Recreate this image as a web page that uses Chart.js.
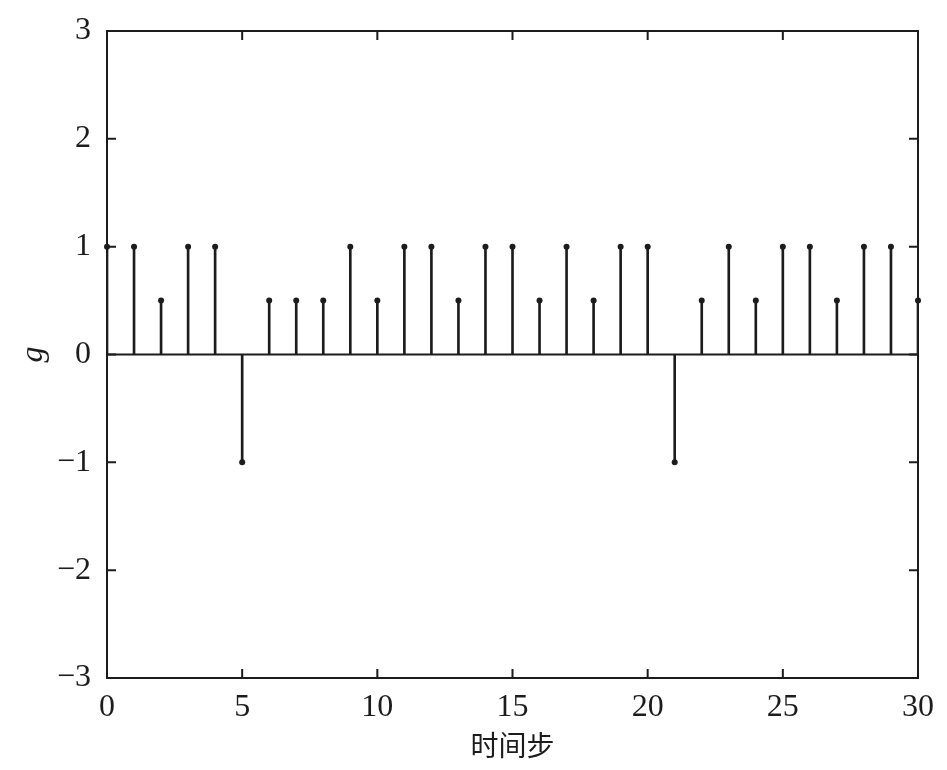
<!DOCTYPE html>
<html>
<head>
<meta charset="utf-8">
<script src="https://cdn.jsdelivr.net/npm/chart.js@4.4.1/dist/chart.umd.min.js"></script>
<style>
  html, body { margin: 0; padding: 0; background: #fff; }
  #wrap { width: 947px; height: 770px; }
</style>
</head>
<body>
<div id="wrap"><canvas id="stem"></canvas></div>
<script>
// time steps and g values
const steps = [0, 1, 2, 3, 4, 5, 6, 7, 8, 9, 10, 11, 12, 13, 14, 15, 16, 17, 18, 19, 20, 21, 22, 23, 24, 25, 26, 27, 28, 29, 30];
const gValues = [1, 1, 0.5, 1, 1, -1, 0.5, 0.5, 0.5, 1, 0.5, 1, 1, 0.5, 1, 1, 0.5, 1, 0.5, 1, 1, -1, 0.5, 1, 0.5, 1, 1, 0.5, 1, 1, 0.5];
const xTicks = [0, 5, 10, 15, 20, 25, 30];
const yTicks = [-3, -2, -1, 0, 1, 2, 3];

const ink = '#1c1c1c';
const points = steps.map((s, i) => ({ x: s, y: gValues[i] }));

// matplotlib-style box with inward ticks on all four sides
const frameTicks = {
    id: 'frameTicks',
    afterDatasetsDraw(chart) {
        const { ctx, chartArea: a, scales } = chart;
        const len = 9;
        ctx.save();
        ctx.strokeStyle = ink;
        ctx.lineWidth = 2;
        ctx.strokeRect(a.left, a.top, a.right - a.left, a.bottom - a.top);
        ctx.beginPath();
        xTicks.forEach(v => {
            const px = scales.x.getPixelForValue(v);
            ctx.moveTo(px, a.bottom); ctx.lineTo(px, a.bottom - len);
            ctx.moveTo(px, a.top); ctx.lineTo(px, a.top + len);
        });
        yTicks.forEach(v => {
            const py = scales.y.getPixelForValue(v);
            ctx.moveTo(a.left, py); ctx.lineTo(a.left + len, py);
            ctx.moveTo(a.right, py); ctx.lineTo(a.right - len, py);
        });
        ctx.stroke();
        ctx.restore();
    }
};

const tickFont = { family: '"Liberation Serif", serif', size: 32 };

new Chart(document.getElementById('stem'), {
    type: 'bar',
    data: {
        datasets: [
            {
                type: 'scatter',
                data: points,
                pointRadius: 3,
                pointBackgroundColor: ink,
                pointBorderWidth: 0,
                clip: false,
                order: 0
            },
            {
                type: 'bar',
                data: points,
                backgroundColor: ink,
                barThickness: 2,
                order: 1
            },
            {
                type: 'line',
                data: [{ x: steps[0], y: 0 }, { x: steps[steps.length - 1], y: 0 }],
                borderColor: ink,
                borderWidth: 2,
                pointRadius: 0,
                order: 2
            }
        ]
    },
    options: {
        responsive: true,
        maintainAspectRatio: false,
        animation: false,
        events: [],
        layout: { padding: { left: 0, top: 31, right: 29, bottom: 0 } },
        plugins: {
            legend: { display: false },
            tooltip: { enabled: false }
        },
        scales: {
            x: {
                type: 'linear',
                min: 0,
                max: 30,
                offset: false,
                afterFit: s => { s.height = 92; },
                afterBuildTicks: s => { s.ticks = xTicks.map(v => ({ value: v })); },
                grid: { display: false, offset: false },
                border: { display: false },
                ticks: { color: ink, font: tickFont, padding: 2, maxRotation: 0 },
                title: {
                    display: true,
                    text: '时间步',
                    color: ink,
                    font: { family: '"Noto Sans CJK SC", sans-serif', size: 28 },
                    padding: { top: 0, bottom: 8 }
                }
            },
            y: {
                type: 'linear',
                min: -3,
                max: 3,
                afterFit: s => { s.width = 107; },
                afterBuildTicks: s => { s.ticks = yTicks.map(v => ({ value: v })); },
                grid: { display: false },
                border: { display: false },
                ticks: {
                    color: ink,
                    font: tickFont,
                    padding: 8,
                    callback: v => String(v).replace('-', '\u2212')
                },
                title: {
                    display: true,
                    text: 'g',
                    color: ink,
                    font: { family: '"Liberation Serif", serif', size: 32, style: 'italic' },
                    padding: { top: 14, bottom: 0 }
                }
            }
        }
    },
    plugins: [frameTicks]
});
</script>
</body>
</html>
